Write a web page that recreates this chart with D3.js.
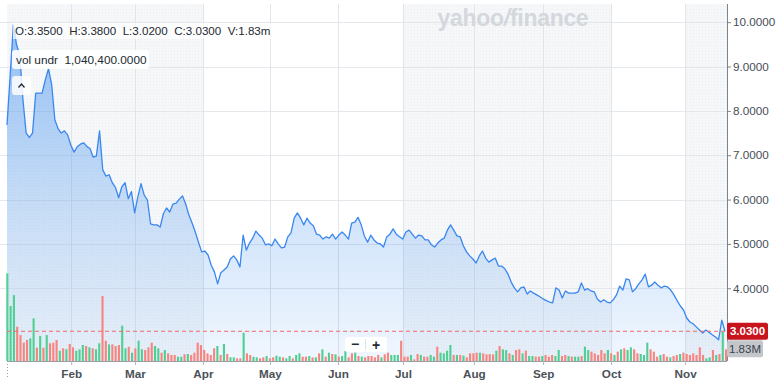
<!DOCTYPE html>
<html><head><meta charset="utf-8">
<script src="https://cdn.jsdelivr.net/npm/d3@7/dist/d3.min.js"></script>
<style>html,body{margin:0;padding:0;background:#fff;}svg{display:block;font-family:"Liberation Sans",Arial,sans-serif;}</style>
</head><body>
<svg id="c" width="779" height="382"></svg>
<script>
// ---- data ----
const prices = [
7.68,8.81,9.94,9.49,9.26,8.25,7.5,7.4,7.5,8.4,
8.40,8.40,8.7,8.95,8.59,7.8,7.6,7.5,7.55,7.46,
7.23,7.07,7.19,7.25,7.28,7.2,7.15,6.96,6.98,7.55,
6.67,6.53,6.56,6.38,6.27,6.04,6.29,6.38,6.02,6.18,
5.7,6.06,6.36,6.1,5.99,5.45,5.43,5.43,5.38,5.68,
5.81,5.72,5.9,5.92,6.01,6.08,5.9,5.65,5.47,5.27,
5.04,4.82,4.84,4.75,4.52,4.37,4.1,4.35,4.41,4.48,
4.66,4.73,4.64,4.48,5.2,4.86,5.02,5.13,5.29,5.2,
5.13,4.98,5.0,4.96,5.11,5.0,4.91,4.93,5.16,5.25,
5.58,5.7,5.58,5.43,5.58,5.47,5.41,5.22,5.2,5.11,
5.16,5.13,5.22,5.11,5.2,5.27,5.2,5.11,5.47,5.49,
5.6,5.43,5.18,5.04,5.2,5.09,5.02,5.0,4.93,5.16,
5.22,5.34,5.22,5.16,5.11,5.27,5.31,5.22,5.13,5.2,
5.18,5.09,5.09,4.98,4.93,5.02,5.09,5.13,5.31,5.43,
5.31,5.18,5.16,4.96,4.82,4.73,4.66,4.57,4.73,4.84,
4.68,4.59,4.64,4.68,4.5,4.5,4.44,4.32,4.14,4.01,
3.92,4.01,4.03,3.87,3.94,3.89,3.85,3.81,3.76,3.72,
3.69,3.67,4.01,3.96,3.78,3.94,3.89,3.89,3.89,3.92,
4.12,3.96,3.99,3.94,3.92,3.76,3.69,3.74,3.69,3.67,
3.74,3.85,4.05,3.96,4.21,4.19,3.92,3.99,4.1,4.19,
4.32,4.03,4.07,4.14,4.07,4.01,4.05,4.03,3.96,3.85,
3.72,3.6,3.51,3.33,3.24,3.2,3.13,3.06,2.99,3.06,
3.01,2.95,2.9,2.84,3.28,3.03];

const volumes = [ // millions
13.7,8.59,10.3,5.36,4.06,2.86,3.28,3.55,6.67,2.08,
3.9,2.08,4.06,2.77,2.86,3.28,1.61,1.98,1.83,2.66,
2.14,1.61,1.83,2.5,2.34,2.14,1.98,1.83,2.77,10.16,
3.17,2.6,2.6,2.34,2.5,5.52,1.98,2.23,1.3,1.98,
3.17,1.83,1.72,2.14,2.86,2.34,1.98,1.3,1.72,1.2,
0.94,0.94,0.67,0.67,1.05,1.09,0.94,1.3,2.86,2.5,
1.72,1.2,0.94,1.98,2.34,0.94,2.66,1.09,0.58,0.58,
0.42,0.42,4.42,1.2,0.94,0.67,0.58,
0.42,0.57,0.78,0.42,0.57,0.83,0.68,0.57,0.42,0.78,
0.42,0.94,1.2,0.68,0.68,0.78,0.57,0.57,1.2,1.82,
0.68,1.3,1.09,1.04,0.68,0.78,1.56,0.57,1.2,1.3,
0.78,0.68,0.57,0.78,0.78,0.57,0.94,0.57,1.04,1.3,
0.94,0.94,0.94,3.18,0.68,0.68,0.94,0.26,1.09,0.94,
0.68,0.68,0.94,0.68,2.24,1.3,1.2,1.61,2.5,0.94,
0.94,0.94,0.83,0.57,1.2,1.2,1.3,1.3,1.2,1.04,
1.09,1.04,1.61,2.34,1.82,1.72,1.2,0.94,
1.72,1.82,1.2,1.61,0.78,0.78,0.68,0.68,0.78,0.94,
0.68,0.94,0.78,1.72,0.78,0.94,0.78,0.68,0.68,0.68,
0.78,2.24,1.72,1.46,1.2,0.94,1.72,1.2,1.72,1.2,
0.94,1.46,1.82,1.98,1.72,2.14,1.82,1.2,1.09,0.94,
2.86,1.82,1.46,0.68,0.94,1.09,0.68,0.57,0.78,0.94,
1.09,1.3,1.09,0.94,1.2,0.94,2.14,0.94,0.42,0.57,
1.72,0.94,1.09,4.58,1.83];

const volumeUp = [
1,1,1,0,0,0,0,1,1,0, 1,0,1,0,0,0,1,0,1,0, 0,1,1,1,0,1,0,1,1,0,
0,1,0,0,0,1,1,0,1,0, 1,1,0,0,0,1,1,0,1,0, 0,0,1,1,0,1,0,0,0,0,
0,0,0,0,1,0,1,0,1,1, 0,0,1,0,0,1,1,
0,0,1,0,0,1,1,0,1,1, 0,1,1,0,0,1,0,1,0,1, 0,1,0,1,0,1,1,0,0,1,
0,1,0,0,0,0,0,1,0,0, 1,1,1,0,0,0,1,0,0,1, 0,0,1,1,0,1,1,1,1,0,
1,0,1,0,0,0,0,1,0,0, 0,0,1,0,1,1,0,1,
0,0,1,0,1,1,0,0,1,0, 0,0,1,1,0,0,1,0,1,1, 0,1,1,0,0,0,0,0,1,0,
1,0,1,0,1,1,0,0,1,1, 1,0,0,0,1,0,0,1,0,0, 1,0,0,0,0,0,0,0,1,1,
0,1,0,1,0];

const monthLabels = ["Feb","Mar","Apr","May","Jun","Jul","Aug","Sep","Oct","Nov"];
const monthIdx    = [20.1, 40.1, 61.4, 82.4, 103.7, 124.1, 146.3, 168.0, 189.3, 212.5]; // position on price index
const priceTicks  = [4,5,6,7,8,9,10];
const shadedBands = [[0,61.4],[124.1,189.3],[212.5,225]]; // price-index spans
const ohlc = "O:3.3500  H:3.3800  L:3.0200  C:3.0300  V:1.83m";
const lastPrice = 3.03, lastVolumeLabel = "1.83M";

// ---- scales ----
const svg = d3.select("#c");
const L = 7, R = 727, TOP = 4, BOT = 361;
const x = d3.scaleLinear().domain([0, prices.length-1]).range([7, 725]);
const xv = d3.scaleLinear().domain([0, volumes.length-1]).range([7.3, 726]);
const y = d3.scaleLinear().domain([2.36, 10.41]).range([BOT, TOP]);
const yv = d3.scaleLinear().domain([0, 15]).range([BOT, BOT-96]);

// gradient
const defs = svg.append("defs");
const g1 = defs.append("linearGradient").attr("id","af").attr("gradientUnits","userSpaceOnUse")
  .attr("x1",0).attr("x2",0).attr("y1",TOP).attr("y2",BOT);
g1.append("stop").attr("offset",0).attr("stop-color","#2f86ee").attr("stop-opacity",0.52);
g1.append("stop").attr("offset",0.55).attr("stop-color","#2f86ee").attr("stop-opacity",0.24);
g1.append("stop").attr("offset",1).attr("stop-color","#2f86ee").attr("stop-opacity",0.07);
const pat = defs.append("pattern").attr("id","dots").attr("width",3).attr("height",3).attr("patternUnits","userSpaceOnUse");
pat.append("rect").attr("width",3).attr("height",3).attr("fill","#f5f7f9");
pat.append("rect").attr("width",1).attr("height",1).attr("fill","#eceff2");

// shaded bands
svg.append("g").selectAll("rect").data(shadedBands).join("rect")
  .attr("x", d => d[0]===0 ? L : x(d[0]))
  .attr("width", d => (d[1]>=prices.length-1 ? R : x(d[1])) - (d[0]===0 ? L : x(d[0])))
  .attr("y", TOP).attr("height", BOT-TOP).attr("fill","url(#dots)");

// grid
svg.append("g").selectAll("line").data(priceTicks).join("line")
  .attr("x1",0).attr("x2",R).attr("y1",d=>Math.round(y(d))+0.5).attr("y2",d=>Math.round(y(d))+0.5)
  .attr("stroke","#e4e7eb").attr("stroke-width",1);
svg.append("g").selectAll("line").data(monthIdx).join("line")
  .attr("x1",d=>Math.round(x(d))+0.5).attr("x2",d=>Math.round(x(d))+0.5).attr("y1",TOP).attr("y2",BOT)
  .attr("stroke","#e1e4e8").attr("stroke-width",1);

// watermark
svg.append("text").attr("x",513).attr("y",25.5).attr("text-anchor","middle")
  .attr("font-size",23).attr("font-weight",900).attr("fill","#d4d8dd")
  .attr("font-family","'Liberation Sans',Arial,sans-serif").attr("letter-spacing","-0.3")
  .html('yahoo<tspan font-style="italic">/</tspan>finance');

// area + line
svg.append("path").datum(prices)
  .attr("d", d3.area().x((d,i)=>x(i)).y0(BOT).y1(d=>y(d)))
  .attr("fill","url(#af)");
svg.append("path").datum(prices)
  .attr("d", d3.line().x((d,i)=>x(i)).y(d=>y(d)))
  .attr("fill","none").attr("stroke","#3a87f0").attr("stroke-width",1.3).attr("stroke-linejoin","round");

// volume bars
svg.append("g").selectAll("rect").data(volumes).join("rect")
  .attr("x",(d,i)=>xv(i)-1).attr("width",2.1)
  .attr("y",d=>yv(d)).attr("height",d=>BOT-yv(d))
  .attr("fill",(d,i)=>volumeUp[i] ? "#4fcf93" : "#f8847f");

// last price dashed line
svg.append("line").attr("x1",L).attr("x2",R).attr("y1",y(lastPrice)).attr("y2",y(lastPrice))
  .attr("stroke","#f06a6a").attr("stroke-width",1).attr("stroke-dasharray","4,3");

// axes
const ax = svg.append("g").attr("transform",`translate(${R},0)`)
  .call(d3.axisRight(y).tickValues(priceTicks).tickFormat(d3.format(".4f")).tickSize(4).tickPadding(2));
ax.select(".domain").attr("d",`M0.5,${TOP}V${BOT}`).attr("stroke","#7d848b");
ax.selectAll(".tick line").attr("stroke","#7d848b");
ax.selectAll("text").attr("font-size",11.7).attr("fill","#464e56").attr("font-family","'Liberation Sans',Arial,sans-serif");

const bx = svg.append("g").attr("transform",`translate(0,${BOT})`)
  .call(d3.axisBottom(x).tickValues(monthIdx).tickFormat((d,i)=>monthLabels[i]).tickSize(4).tickPadding(5));
bx.select(".domain").attr("d",`M${L},0.5H${R}`).attr("stroke","#9aa0a6");
bx.selectAll(".tick line").attr("stroke","#b0b5ba");
bx.selectAll("text").attr("font-size",11.7).attr("font-weight",700).attr("fill","#4a5159").attr("font-family","'Liberation Sans',Arial,sans-serif");
svg.append("line").attr("x1",7.5).attr("x2",7.5).attr("y1",364).attr("y2",377)
  .attr("stroke","#9aa0a6").attr("stroke-dasharray","1,2");

// price & volume labels
svg.append("rect").attr("x",R).attr("y",y(lastPrice)-8.5).attr("width",41).attr("height",17).attr("rx",2).attr("fill","#c8141c");
svg.append("text").attr("x",R+20.5).attr("y",y(lastPrice)+4).attr("text-anchor","middle")
  .attr("font-size",11.5).attr("font-weight",700).attr("fill","#fff").text(d3.format(".4f")(lastPrice));
svg.append("rect").attr("x",R).attr("y",y(lastPrice)+9).attr("width",36).attr("height",17).attr("rx",2).attr("fill","#c3c6cb");
svg.append("text").attr("x",R+18).attr("y",y(lastPrice)+21.5).attr("text-anchor","middle")
  .attr("font-size",11.5).attr("fill","#3d434a").text(lastVolumeLabel);

// overlays top-left
svg.append("rect").attr("x",13).attr("y",23).attr("width",262).attr("height",16).attr("fill","#fff").attr("opacity",0.75);
svg.append("text").attr("x",15).attr("y",35).attr("font-size",11.6).attr("fill","#232a31")
  .style("white-space","pre").text(ohlc);
svg.append("rect").attr("x",12).attr("y",50).attr("width",137).attr("height",19).attr("rx",3).attr("fill","#fff").attr("opacity",0.9);
svg.append("text").attr("x",16).attr("y",63.5).attr("font-size",11.8).attr("fill","#232a31")
  .style("white-space","pre").text("vol undr  1,040,400.0000");
svg.append("rect").attr("x",12).attr("y",76).attr("width",19).attr("height",19).attr("rx",3).attr("fill","#fff").attr("opacity",0.85);
svg.append("path").attr("d","M18.5,87.5 L21.5,84 L24.5,87.5").attr("fill","none").attr("stroke","#232a31").attr("stroke-width",1.3);

// zoom control
svg.append("rect").attr("x",345).attr("y",337).attr("width",42).attr("height",15).attr("rx",2).attr("fill","#fff").attr("opacity",0.92);
svg.append("line").attr("x1",365.5).attr("x2",365.5).attr("y1",339).attr("y2",350).attr("stroke","#e0e3e7");
svg.append("text").attr("x",355).attr("y",349).attr("text-anchor","middle").attr("font-size",14).attr("font-weight",700).attr("fill","#232a31").text("−");
svg.append("text").attr("x",376).attr("y",349.5).attr("text-anchor","middle").attr("font-size",14).attr("font-weight",700).attr("fill","#232a31").text("+");
</script>
</body></html>
